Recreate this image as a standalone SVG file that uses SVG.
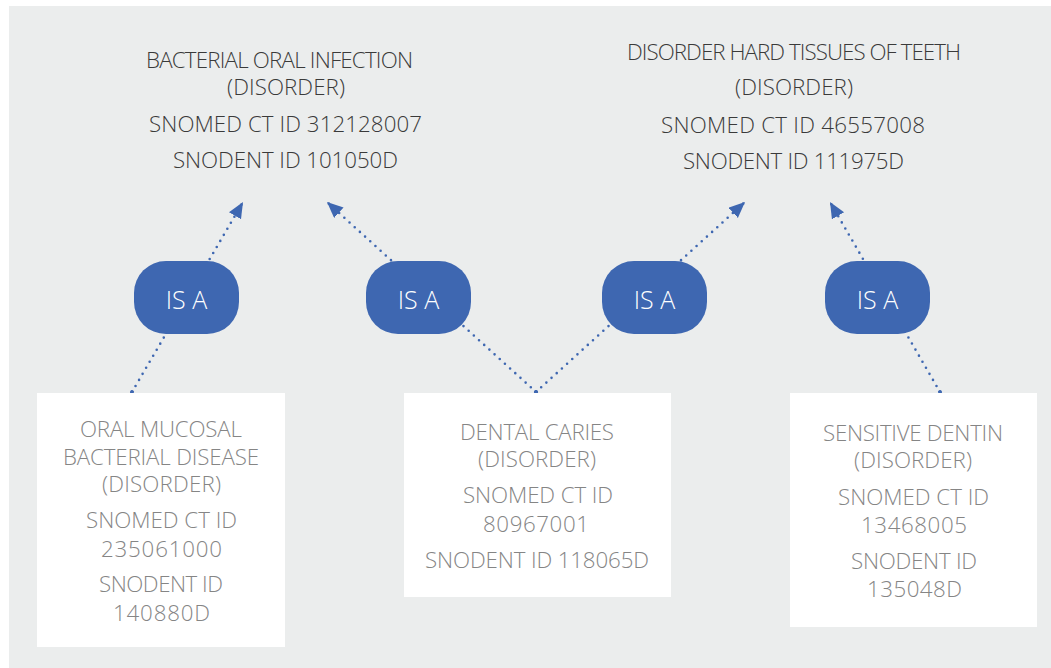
<svg xmlns="http://www.w3.org/2000/svg" width="1051" height="668" viewBox="0 0 1051 668">
<defs>
<style>
.top{font-family:"Open Sans","Liberation Sans",sans-serif;font-weight:300;font-size:22.3px;fill:#3a3a3a;text-anchor:middle}
.box{fill:#ffffff}
.bt{font-family:"Open Sans","Liberation Sans",sans-serif;font-weight:300;font-size:22.3px;fill:#858585;text-anchor:middle}
.pill{fill:#3e67b1}
.pt{font-family:"Open Sans","Liberation Sans",sans-serif;font-weight:300;font-size:25px;fill:#ffffff;text-anchor:middle}
.con{fill:none;stroke:#3e67b1;stroke-width:2.6;stroke-dasharray:0 7;stroke-linecap:round;marker-end:url(#arr);marker-start:url(#dot)}
</style>
<marker id="arr" markerUnits="userSpaceOnUse" markerWidth="18" markerHeight="16" refX="16" refY="7" orient="auto">
<path d="M0,0 L16,7 L0,14 Z" fill="#3e67b1"/>
</marker>
<marker id="dot" markerUnits="userSpaceOnUse" markerWidth="6" markerHeight="6" refX="3" refY="3" orient="auto">
<circle cx="3" cy="3" r="2" fill="#3e67b1"/>
</marker>
</defs>
<rect x="9" y="6" width="1042" height="662" fill="#ebeded"/>

<g id="connectors">
<line class="con" x1="132" y1="392" x2="243" y2="202"/>
<line class="con" x1="536" y1="392" x2="327" y2="202"/>
<line class="con" x1="536" y1="392" x2="745" y2="202"/>
<line class="con" x1="940" y1="392" x2="830" y2="202"/>
</g>

<g id="bacterial-oral-infection">
<text class="top" x="279.5" y="68" textLength="267">BACTERIAL ORAL INFECTION</text>
<text class="top" x="286" y="95" textLength="118">(DISORDER)</text>
<text class="top" x="285.5" y="132" textLength="273">SNOMED CT ID 312128007</text>
<text class="top" x="285.5" y="168" textLength="225">SNODENT ID 101050D</text>
</g>

<g id="disorder-hard-tissues">
<text class="top" x="794" y="60" textLength="334">DISORDER HARD TISSUES OF TEETH</text>
<text class="top" x="794" y="95" textLength="118">(DISORDER)</text>
<text class="top" x="793" y="133" textLength="264">SNOMED CT ID 46557008</text>
<text class="top" x="793.5" y="169" textLength="221">SNODENT ID 111975D</text>
</g>

<g id="isa-1">
<rect class="pill" x="134" y="261" width="105" height="73" rx="32"/>
<text class="pt" x="186.5" y="309">IS A</text>
</g>
<g id="isa-2">
<rect class="pill" x="366" y="261" width="105" height="73" rx="32"/>
<text class="pt" x="418.5" y="309">IS A</text>
</g>
<g id="isa-3">
<rect class="pill" x="602" y="261" width="105" height="73" rx="32"/>
<text class="pt" x="654.5" y="309">IS A</text>
</g>
<g id="isa-4">
<rect class="pill" x="825" y="261" width="105" height="73" rx="32"/>
<text class="pt" x="877.5" y="309">IS A</text>
</g>

<g id="oral-mucosal-bacterial-disease">
<rect class="box" x="37" y="393" width="248" height="254"/>
<text class="bt" x="161" y="437" textLength="162">ORAL MUCOSAL</text>
<text class="bt" x="161" y="465" textLength="196">BACTERIAL DISEASE</text>
<text class="bt" x="161.5" y="492" textLength="119">(DISORDER)</text>
<text class="bt" x="161.5" y="528" textLength="151">SNOMED CT ID</text>
<text class="bt" x="161.5" y="557" textLength="121">235061000</text>
<text class="bt" x="161" y="592" textLength="124">SNODENT ID</text>
<text class="bt" x="161.5" y="621" textLength="97">140880D</text>
</g>

<g id="dental-caries">
<rect class="box" x="404" y="393" width="267" height="204"/>
<text class="bt" x="537" y="440" textLength="154">DENTAL CARIES</text>
<text class="bt" x="537" y="467" textLength="118">(DISORDER)</text>
<text class="bt" x="538" y="503" textLength="150">SNOMED CT ID</text>
<text class="bt" x="536" y="532" textLength="106">80967001</text>
<text class="bt" x="537" y="568" textLength="224">SNODENT ID 118065D</text>
</g>

<g id="sensitive-dentin">
<rect class="box" x="790" y="393" width="247" height="234"/>
<text class="bt" x="913" y="441" textLength="180">SENSITIVE DENTIN</text>
<text class="bt" x="913" y="468" textLength="118">(DISORDER)</text>
<text class="bt" x="913.5" y="505" textLength="151">SNOMED CT ID</text>
<text class="bt" x="914" y="533" textLength="106">13468005</text>
<text class="bt" x="914" y="569" textLength="126">SNODENT ID</text>
<text class="bt" x="914.5" y="597" textLength="95">135048D</text>
</g>
</svg>
